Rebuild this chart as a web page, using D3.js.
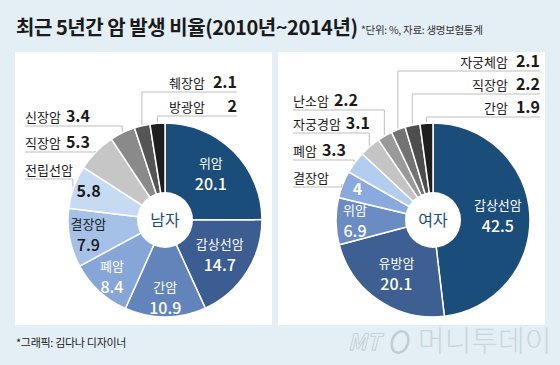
<!DOCTYPE html>
<html>
<head>
<meta charset="utf-8">
<style>
  body { margin: 0; background: #e3eef5; }
  text { font-family: "Noto Sans CJK KR", "Noto Sans", sans-serif; }
</style>
</head>
<body>
<script src="https://d3js.org/d3.v7.min.js"></script>
<script>
// data
var maleNames = ["위암", "갑상선암", "간암", "폐암", "결장암", "전립선암", "직장암", "신장암", "췌장암", "방광암"];
var maleValues = [20.1, 14.7, 10.9, 8.4, 7.9, 5.8, 5.3, 3.4, 2.1, 2];
var femaleNames = ["갑상선암", "유방암", "위암", "결장암", "폐암", "자궁경암", "난소암", "자궁체암", "직장암", "간암"];
var femaleValues = [42.5, 20.1, 6.9, 4, 3.3, 3.1, 2.2, 2.1, 2.2, 1.9];

var maleColors = ["#1b4d7a", "#3b5d91", "#6284ba", "#86a6d8", "#a6c1e8", "#c6dbf2", "#c6c6c6", "#8a8a8a", "#555555", "#1e1e1e"];
var femaleColors = ["#1b4d7a", "#3d5f92", "#6a8cc2", "#8aaade", "#b3cdee", "#c4c4c4", "#9a9a9a", "#737373", "#4d4d4d", "#1e1e1e"];

var width = 560, height = 365;

var svg = d3.select("body").append("svg")
    .attr("width", width)
    .attr("height", height);

svg.append("rect").attr("width", width).attr("height", height).attr("fill", "#e3eef5");

// panels
svg.append("rect").attr("x", 15).attr("y", 52).attr("width", 257).attr("height", 273).attr("fill", "#ffffff");
svg.append("rect").attr("x", 278).attr("y", 52).attr("width", 267).attr("height", 273).attr("fill", "#ffffff");

// title
svg.append("text")
    .attr("x", 16).attr("y", 35)
    .style("font-size", "20px").style("font-weight", "bold").style("letter-spacing", "-0.45px")
    .attr("fill", "#1a1a1a")
    .text("최근 5년간 암 발생 비율(2010년~2014년)");
svg.append("text")
    .attr("x", 361).attr("y", 34)
    .style("font-size", "10.5px").style("letter-spacing", "-0.3px").attr("fill", "#333")
    .text("*단위: %, 자료: 생명보험통계");

svg.append("text")
    .attr("x", 16).attr("y", 347)
    .style("font-size", "11px").style("letter-spacing", "-0.3px").attr("fill", "#222")
    .text("*그래픽: 김다나 디자이너");

// watermark
svg.append("text")
    .attr("x", 348).attr("y", 350)
    .style("font-size", "22px").style("font-style", "italic").style("font-weight", "bold")
    .attr("fill", "none").attr("stroke", "#c3ccd3").attr("stroke-width", 0.8)
    .text("MT");
svg.append("ellipse")
    .attr("cx", 400).attr("cy", 342).attr("rx", 8).attr("ry", 11)
    .attr("transform", "rotate(20,400,342)")
    .attr("fill", "none").attr("stroke", "#c3ccd3").attr("stroke-width", 2.5);
svg.append("text")
    .attr("x", 418).attr("y", 352)
    .style("font-size", "29px").style("font-weight", "300").attr("fill", "#cdd5db")
    .text("머니투데이");

// label layout: mode "in" = name+value inside, "split" = name outside/value inside, "out" = all outside
var maleLayout = {
  "전립선암": { mode: "split", side: "left", y: 175 },
  "직장암": { mode: "out", side: "left", y: 148 },
  "신장암": { mode: "out", side: "left", y: 122 },
  "췌장암": { mode: "out", side: "right", y: 88 },
  "방광암": { mode: "out", side: "right", y: 112 }
};
var femaleLayout = {
  "결장암": { mode: "split", side: "left", y: 183 },
  "폐암": { mode: "out", side: "left", y: 156 },
  "자궁경암": { mode: "out", side: "left", y: 129 },
  "난소암": { mode: "out", side: "left", y: 106 },
  "자궁체암": { mode: "out", side: "right", y: 67 },
  "직장암": { mode: "out", side: "right", y: 90 },
  "간암": { mode: "out", side: "right", y: 113 }
};

drawPie(maleNames, maleValues, maleColors, maleLayout, 165, 220, "남자", 25, 237);
drawPie(femaleNames, femaleValues, femaleColors, femaleLayout, 433, 220, "여자", 293, 540);

function drawPie(names, values, colors, layout, cx, cy, center, leftX, rightX) {
  var R = 97;
  var data = names.map(function(n, i) { return { name: n, value: values[i], color: colors[i] }; });
  var pie = d3.pie().sort(null).value(function(d) { return d.value; });
  var arcs = pie(data);
  var arc = d3.arc().innerRadius(0).outerRadius(R);
  var g = svg.append("g").attr("transform", "translate(" + cx + "," + cy + ")");

  g.selectAll("path.slice")
    .data(arcs)
    .enter().append("path")
      .attr("class", "slice")
      .attr("d", arc)
      .attr("fill", function(d) { return d.data.color; })
      .attr("stroke", "#ffffff")
      .attr("stroke-width", 1.5);

  g.append("circle").attr("r", 28).attr("fill", "#ffffff");
  g.append("text")
    .attr("text-anchor", "middle").attr("y", 6)
    .style("font-size", "16px").attr("fill", "#1b4d7a")
    .text(center);

  arcs.forEach(function(a) {
    var lay = layout[a.data.name] || { mode: "in" };
    var span = a.endAngle - a.startAngle;
    var lr = span > 0.9 ? 65 : 78;
    var mid = (a.startAngle + a.endAngle) / 2;
    var lx = lr * Math.sin(mid), ly = -lr * Math.cos(mid);
    var c = d3.color(a.data.color);
    var lum = (0.299 * c.r + 0.587 * c.g + 0.114 * c.b);
    var tc = lum > 170 ? "#1a1a1a" : "#ffffff";

    if (lay.mode === "in") {
      g.append("text").attr("text-anchor", "middle")
        .attr("x", lx).attr("y", ly - 6)
        .style("font-size", "13px").attr("fill", tc)
        .text(a.data.name);
      g.append("text").attr("text-anchor", "middle")
        .attr("x", lx).attr("y", ly + 16)
        .style("font-size", "16px").style("font-weight", "500").attr("fill", tc)
        .text(a.data.value);
      return;
    }
    if (lay.mode === "split") {
      g.append("text").attr("text-anchor", "middle")
        .attr("x", lx - 3).attr("y", ly + 4)
        .style("font-size", "16px").style("font-weight", "bold").attr("fill", tc)
        .text(a.data.value);
    }

    // leader point at slice edge
    var px = cx + (R + 1) * Math.sin(mid), py = cy - (R + 1) * Math.cos(mid);
    var uy = lay.y + 4;
    var lg = svg.append("g");
    var x0 = lay.side === "left" ? leftX : px;
    var x1 = lay.side === "left" ? px : rightX;
    lg.append("path")
      .attr("d", "M" + x0 + "," + uy + "H" + x1 + (lay.side === "left" ? "V" + py : "")
        + (lay.side === "right" ? "M" + px + "," + uy + "V" + py : ""))
      .attr("fill", "none").attr("stroke", "#bdbdbd").attr("stroke-width", 1);

    if (lay.side === "left") {
      var t = lg.append("text").attr("x", leftX).attr("y", lay.y)
        .attr("fill", "#1a1a1a");
      t.append("tspan").style("font-size", "13px").text(a.data.name);
      if (lay.mode === "out") {
        t.append("tspan").attr("dx", 5).style("font-size", "16px").style("font-weight", "bold").text(a.data.value);
      }
    } else {
      lg.append("text").attr("x", rightX).attr("y", lay.y).attr("text-anchor", "end")
        .style("font-size", "16px").style("font-weight", "bold").attr("fill", "#1a1a1a")
        .text(a.data.value);
      lg.append("text").attr("x", rightX - 32).attr("y", lay.y).attr("text-anchor", "end")
        .style("font-size", "13px").attr("fill", "#1a1a1a")
        .text(a.data.name);
    }
  });
}
</script>
</body>
</html>
